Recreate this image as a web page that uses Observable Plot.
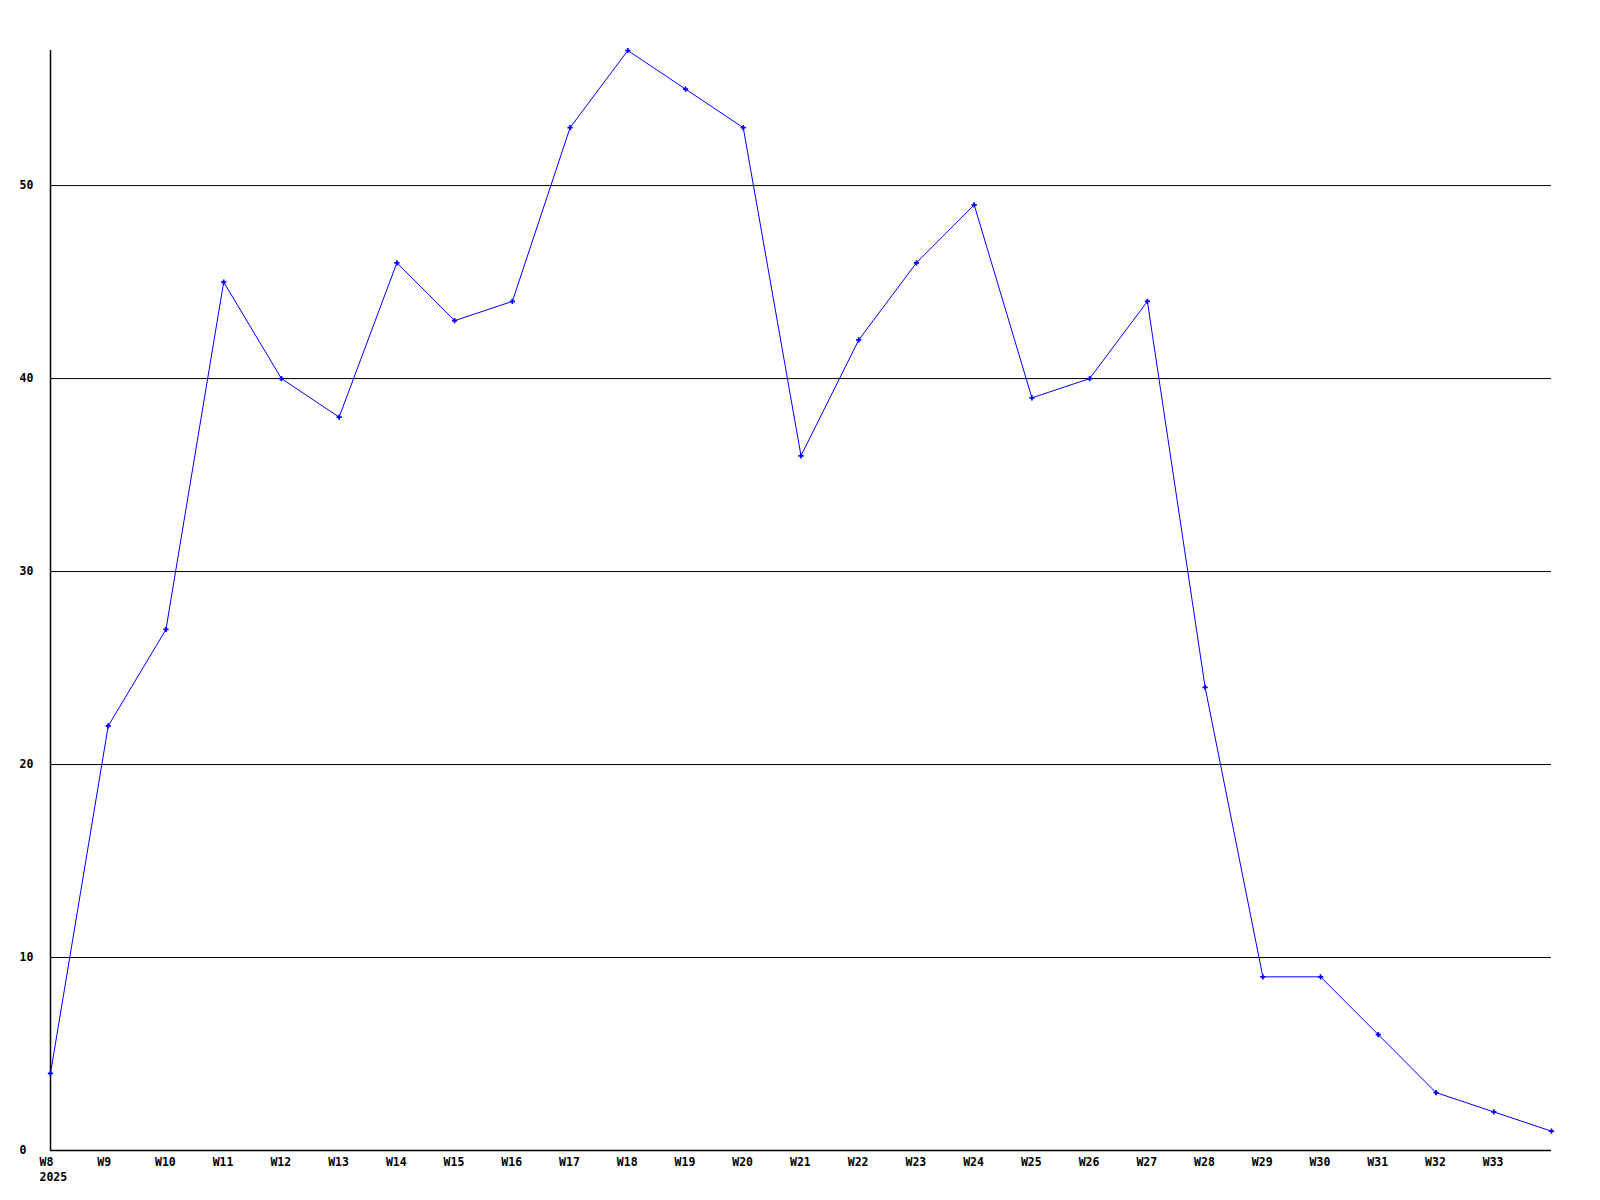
<!DOCTYPE html>
<html>
<head>
<meta charset="utf-8">
<script src="https://cdn.jsdelivr.net/npm/d3@7"></script>
<script src="https://cdn.jsdelivr.net/npm/@observablehq/plot@0.6"></script>
<style>
  html, body { margin: 0; padding: 0; background: #fff; }
</style>
</head>
<body>
<div id="chart"></div>
<script>
const weeks = [8, 9, 10, 11, 12, 13, 14, 15, 16, 17, 18, 19, 20, 21, 22, 23, 24, 25, 26, 27, 28, 29, 30, 31, 32, 33, 34];
const values = [4, 22, 27, 45, 40, 38, 46, 43, 44, 53, 57, 55, 53, 36, 42, 46, 49, 39, 40, 44, 24, 9, 9, 6, 3, 2, 1];
const tickWeeks = [8, 9, 10, 11, 12, 13, 14, 15, 16, 17, 18, 19, 20, 21, 22, 23, 24, 25, 26, 27, 28, 29, 30, 31, 32, 33];
const yTicks = [0, 10, 20, 30, 40, 50];
const gridLines = [10, 20, 30, 40, 50];
const yearLabel = "2025";

const data = weeks.map((w, i) => ({week: w, value: values[i]}));
const font = "'DejaVu Sans Mono', monospace";

const chart = Plot.plot({
  width: 1600,
  height: 1200,
  marginLeft: 50,
  marginRight: 49,
  marginTop: 50,
  marginBottom: 50,
  style: {background: "#fff", fontFamily: font},
  x: {type: "linear", domain: [8, 34], axis: null},
  y: {type: "linear", domain: [0, 57], axis: null},
  marks: [
    Plot.ruleY(gridLines, {stroke: "#000", strokeWidth: 1}),
    Plot.ruleY([0], {stroke: "#000", strokeWidth: 1.5}),
    Plot.ruleX([8], {stroke: "#000", strokeWidth: 1.5}),
    Plot.text(yTicks, {y: d => d, text: d => String(d), frameAnchor: "left", dx: -31, textAnchor: "start",
      lineAnchor: "middle", fontSize: 11.5, fontWeight: "bold", fill: "#000", fontFamily: font}),
    Plot.text(tickWeeks, {x: d => d, text: d => "W" + d, frameAnchor: "bottom", dy: 12, dx: -11, textAnchor: "start",
      lineAnchor: "middle", fontSize: 11.5, fontWeight: "bold", fill: "#000", fontFamily: font}),
    Plot.text([8], {x: d => d, text: () => yearLabel, frameAnchor: "bottom", dy: 27, dx: -11, textAnchor: "start",
      lineAnchor: "middle", fontSize: 11.5, fontWeight: "bold", fill: "#000", fontFamily: font}),
    Plot.line(data, {x: "week", y: "value", stroke: "#0000ff", strokeWidth: 1}),
    Plot.dot(data, {x: "week", y: "value", symbol: "cross", r: 2.2, fill: "#0000ff", stroke: "none"})
  ]
});
document.getElementById("chart").appendChild(chart);
</script>
</body>
</html>
